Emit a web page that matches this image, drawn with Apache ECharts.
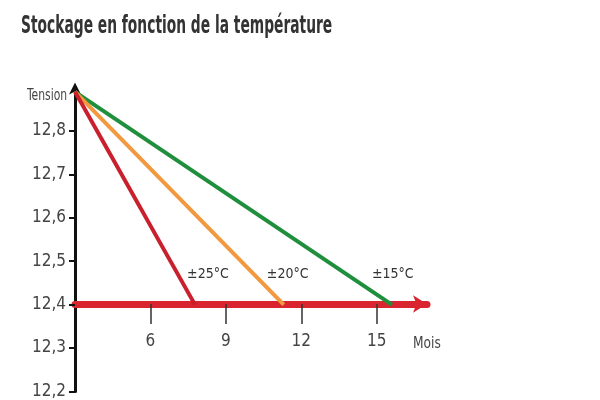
<!DOCTYPE html>
<html lang="fr">

<head>
  <meta charset="UTF-8">
  <title>Stockage en fonction de la température</title>
  <script src="https://cdn.jsdelivr.net/npm/echarts@6.0.0/dist/echarts.min.js"></script>
  <style>
    html, body { margin: 0; padding: 0; background: #fff; }
    #main { width: 600px; height: 400px; }
  </style>
</head>

<body>
  <div id="main"></div>
  <script>
    // données
    var temperatures = ['±25°C', '±20°C', '±15°C']
    var tensionDepart = 12.89
    var tensionFin = 12.4
    var moisDepart = 3
    var moisFin = [7.77, 11.3, 15.6]
    var couleurs = ['#c8202d', '#f2983f', '#1f8e3d']
    var ticksMois = [6, 9, 12, 15]
    var ticksTension = [12.2, 12.3, 12.4, 12.5, 12.6, 12.7, 12.8]

    var font = '"DejaVu Sans Condensed", "DejaVu Sans", sans-serif'
    var labelOffsets = [[13, 0], [4, 0], [1, 0]]

    var series = temperatures.map(function (t, i) {
      return {
        name: t,
        type: 'line',
        symbol: 'circle',
        symbolSize: 1,
        z: 3 - i + 2,
        itemStyle: { color: couleurs[i] },
        lineStyle: { color: couleurs[i], width: 4 },
        data: [
          [moisDepart, tensionDepart],
          {
            value: [moisFin[i], tensionFin],
            label: {
              show: true,
              position: 'top',
              distance: 23,
              offset: labelOffsets[i],
              formatter: t,
              color: '#333',
              fontFamily: font,
              fontSize: 14
            }
          }
        ]
      }
    })

    var myChart = echarts.init(document.getElementById('main'))
    var option = {
      animation: false,
      grid: {
        left: 75,
        right: 173,
        top: 87.5,
        bottom: 7.5
      },
      xAxis: {
        type: 'value',
        min: 3,
        max: 17,
        position: 'bottom',
        offset: -87.5,
        splitLine: { show: false },
        axisLine: {
          show: true,
          symbol: ['none', 'arrow'],
          symbolSize: [13, 14],
          lineStyle: { color: '#d9252f', width: 7 }
        },
        axisTick: {
          show: true,
          customValues: ticksMois,
          length: 20,
          lineStyle: { color: '#333', width: 1.5 }
        },
        axisLabel: {
          customValues: ticksMois,
          margin: 29,
          color: '#444',
          fontFamily: font,
          fontSize: 17
        }
      },
      yAxis: {
        type: 'value',
        min: 12.2,
        max: 12.9,
        splitLine: { show: false },
        axisLine: {
          show: true,
          symbol: ['none', 'arrow'],
          symbolSize: [9, 12],
          symbolOffset: [0, 5],
          lineStyle: { color: '#111', width: 3 }
        },
        axisTick: {
          show: true,
          customValues: ticksTension,
          length: 6,
          lineStyle: { color: '#111', width: 2 }
        },
        axisLabel: {
          customValues: ticksTension,
          margin: 9,
          color: '#444',
          fontFamily: font,
          fontSize: 17,
          formatter: function (v) { return v.toFixed(1).replace('.', ',') }
        }
      },
      graphic: [
        {
          // titre, resserré pour imiter la police étroite
          type: 'text',
          x: 21,
          y: 15,
          scaleX: 0.64,
          style: {
            text: 'Stockage en fonction de la température',
            fill: '#333',
            font: 'bold 24px ' + font
          }
        },
        {
          type: 'text',
          x: 27,
          y: 89,
          scaleX: 0.8,
          style: { text: 'Tension', fill: '#444', font: '15px ' + font }
        },
        {
          type: 'text',
          x: 413,
          y: 336,
          scaleX: 0.85,
          style: { text: 'Mois', fill: '#444', font: '16px ' + font }
        }
      ],
      series: series
    }
    myChart.setOption(option)
  </script>
</body>

</html>
